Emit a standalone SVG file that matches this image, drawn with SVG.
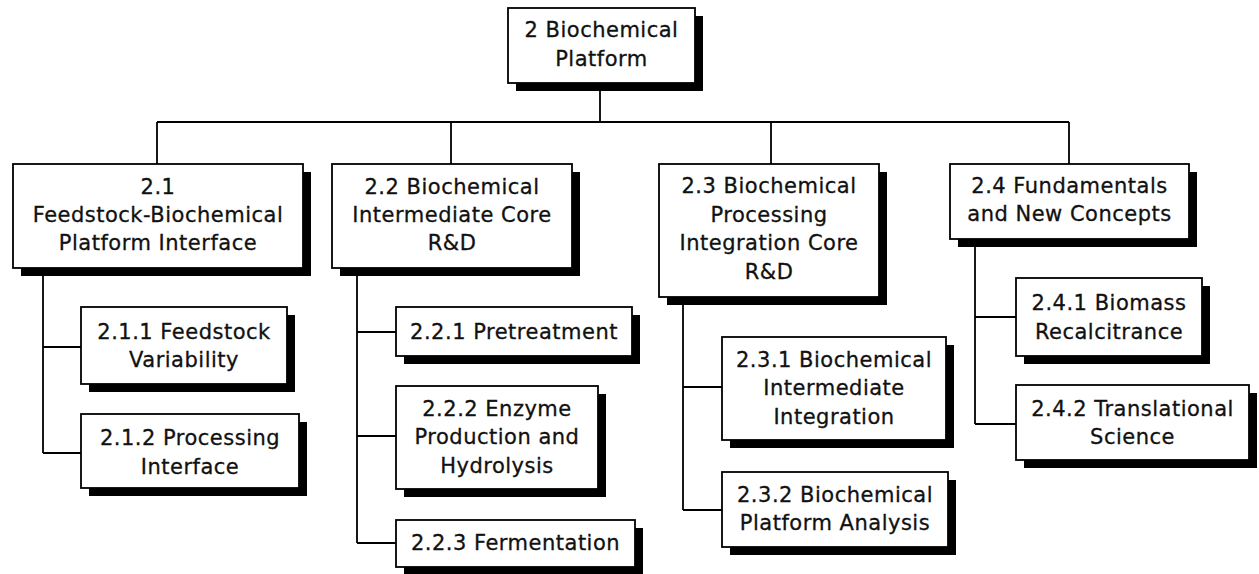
<svg xmlns="http://www.w3.org/2000/svg" width="1259" height="574" viewBox="0 0 1259 574">
<style>
.sh{fill:#000}
.bx{fill:#fff;stroke:#000;stroke-width:1.8}
.t{font-family:"DejaVu Sans",Verdana,sans-serif;font-size:21px;fill:#111;stroke:#111;stroke-width:0.3;letter-spacing:0.5px;text-anchor:middle}
.c{fill:none;stroke:#000;stroke-width:1.8}
</style>
<rect width="1259" height="574" fill="#fff"/>
<g id="connectors" class="c">
<path d="M600 83V122M157 122H1069M157 122V164M451 122V164M771 122V164M1069 122V164"/>
<path d="M43 268V453M43 347H81M43 453H81"/>
<path d="M357 268V543M357 332H396M357 436H396M357 543H396"/>
<path d="M683 297V510M683 387H722M683 510H722"/>
<path d="M975 239V424M975 317H1016M975 424H1016"/>
</g>
<g id="n2">
<rect class="sh" x="516" y="16" width="187" height="75"/>
<rect class="bx" x="508" y="8" width="187" height="75"/>
<text class="t" x="601.5" y="37">2 Biochemical</text>
<text class="t" x="601.5" y="66">Platform</text>
</g>
<g id="n2_1">
<rect class="sh" x="21" y="172" width="290" height="104"/>
<rect class="bx" x="13" y="164" width="290" height="104"/>
<text class="t" x="158" y="194">2.1</text>
<text class="t" x="158" y="222">Feedstock-Biochemical</text>
<text class="t" x="158" y="250">Platform Interface</text>
</g>
<g id="n2_2">
<rect class="sh" x="340" y="172" width="240" height="104"/>
<rect class="bx" x="332" y="164" width="240" height="104"/>
<text class="t" x="452" y="194">2.2 Biochemical</text>
<text class="t" x="452" y="222">Intermediate Core</text>
<text class="t" x="452" y="250">R&amp;D</text>
</g>
<g id="n2_3">
<rect class="sh" x="667" y="172" width="220" height="133"/>
<rect class="bx" x="659" y="164" width="220" height="133"/>
<text class="t" x="769" y="193">2.3 Biochemical</text>
<text class="t" x="769" y="222">Processing</text>
<text class="t" x="769" y="250">Integration Core</text>
<text class="t" x="769" y="279">R&amp;D</text>
</g>
<g id="n2_4">
<rect class="sh" x="958" y="172" width="239" height="75"/>
<rect class="bx" x="950" y="164" width="239" height="75"/>
<text class="t" x="1069.5" y="193">2.4 Fundamentals</text>
<text class="t" x="1069.5" y="221">and New Concepts</text>
</g>
<g id="n2_1_1">
<rect class="sh" x="89" y="315" width="206" height="77"/>
<rect class="bx" x="81" y="307" width="206" height="77"/>
<text class="t" x="184" y="339">2.1.1 Feedstock</text>
<text class="t" x="184" y="367">Variability</text>
</g>
<g id="n2_1_2">
<rect class="sh" x="89" y="422" width="218" height="74"/>
<rect class="bx" x="81" y="414" width="218" height="74"/>
<text class="t" x="190" y="445">2.1.2 Processing</text>
<text class="t" x="190" y="474">Interface</text>
</g>
<g id="n2_2_1">
<rect class="sh" x="404" y="315" width="236" height="49"/>
<rect class="bx" x="396" y="307" width="236" height="49"/>
<text class="t" x="514" y="339">2.2.1 Pretreatment</text>
</g>
<g id="n2_2_2">
<rect class="sh" x="404" y="394" width="202" height="103"/>
<rect class="bx" x="396" y="386" width="202" height="103"/>
<text class="t" x="497" y="416">2.2.2 Enzyme</text>
<text class="t" x="497" y="444">Production and</text>
<text class="t" x="497" y="473">Hydrolysis</text>
</g>
<g id="n2_2_3">
<rect class="sh" x="404" y="528" width="239" height="47"/>
<rect class="bx" x="396" y="520" width="239" height="47"/>
<text class="t" x="515.5" y="550">2.2.3 Fermentation</text>
</g>
<g id="n2_3_1">
<rect class="sh" x="730" y="345" width="224" height="103"/>
<rect class="bx" x="722" y="337" width="224" height="103"/>
<text class="t" x="834" y="367">2.3.1 Biochemical</text>
<text class="t" x="834" y="395">Intermediate</text>
<text class="t" x="834" y="424">Integration</text>
</g>
<g id="n2_3_2">
<rect class="sh" x="730" y="480" width="226" height="75"/>
<rect class="bx" x="722" y="472" width="226" height="75"/>
<text class="t" x="835" y="502">2.3.2 Biochemical</text>
<text class="t" x="835" y="530">Platform Analysis</text>
</g>
<g id="n2_4_1">
<rect class="sh" x="1024" y="286" width="186" height="78"/>
<rect class="bx" x="1016" y="278" width="186" height="78"/>
<text class="t" x="1109" y="310">2.4.1 Biomass</text>
<text class="t" x="1109" y="339">Recalcitrance</text>
</g>
<g id="n2_4_2">
<rect class="sh" x="1024" y="393" width="233" height="75"/>
<rect class="bx" x="1016" y="385" width="233" height="75"/>
<text class="t" x="1132.5" y="416">2.4.2 Translational</text>
<text class="t" x="1132.5" y="444">Science</text>
</g>
</svg>
